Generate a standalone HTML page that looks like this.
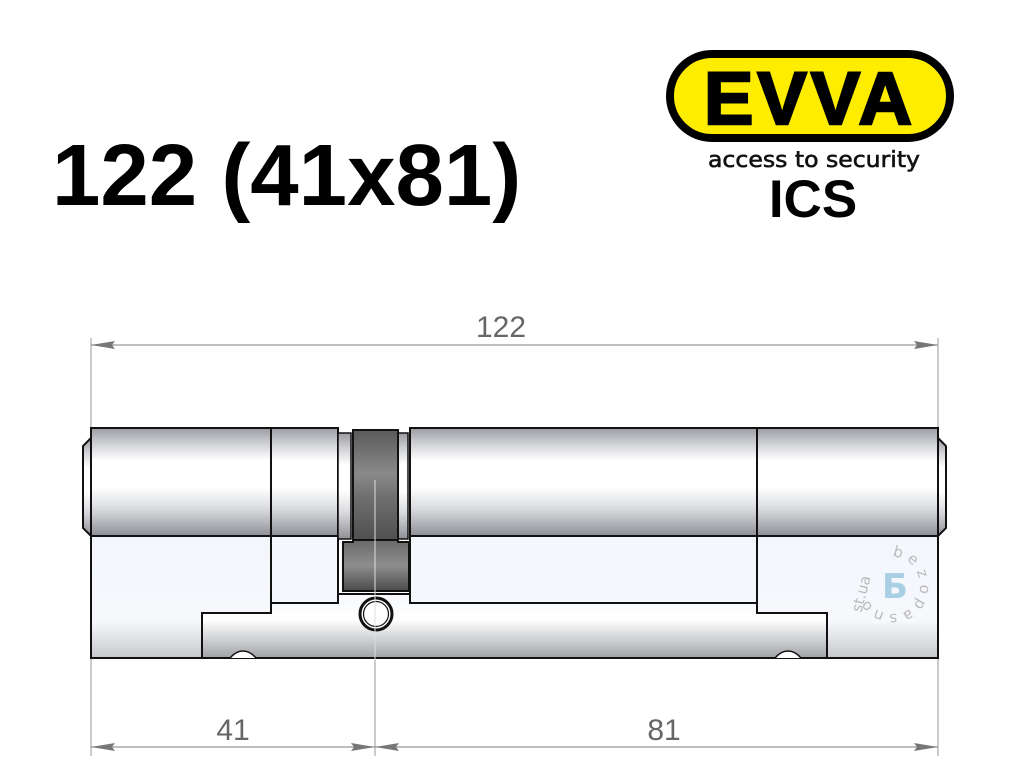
<!DOCTYPE html>
<html><head><meta charset="utf-8"><style>
html,body{margin:0;padding:0;background:#fff;}
svg{display:block;}
</style></head><body>
<svg width="1024" height="768" viewBox="0 0 1024 768" xmlns="http://www.w3.org/2000/svg">
<defs>
<linearGradient id="cyl" x1="0" y1="0" x2="0" y2="1">
<stop offset="0" stop-color="#9a9ca2"/><stop offset="0.15" stop-color="#d0d2d6"/>
<stop offset="0.3" stop-color="#ffffff"/><stop offset="0.55" stop-color="#ffffff"/>
<stop offset="0.75" stop-color="#d8dade"/><stop offset="1" stop-color="#8e9096"/>
</linearGradient>
<linearGradient id="cam" x1="0" y1="0" x2="0" y2="1">
<stop offset="0" stop-color="#5a5a5a"/><stop offset="0.4" stop-color="#8a8a8a"/>
<stop offset="0.6" stop-color="#707070"/><stop offset="1" stop-color="#505050"/>
</linearGradient>
<linearGradient id="cam2" x1="0" y1="0" x2="0" y2="1">
<stop offset="0" stop-color="#6a6a6a"/><stop offset="0.5" stop-color="#8e8e8e"/><stop offset="1" stop-color="#4a4a4a"/>
</linearGradient>
<linearGradient id="bar" x1="0" y1="0" x2="0" y2="1">
<stop offset="0" stop-color="#f6f8fb"/><stop offset="0.4" stop-color="#ffffff"/>
<stop offset="0.75" stop-color="#c8cace"/><stop offset="1" stop-color="#a0a2a6"/>
</linearGradient>
<linearGradient id="low" x1="0" y1="0" x2="0" y2="1">
<stop offset="0" stop-color="#f3f6fb"/><stop offset="0.7" stop-color="#f6f8fc"/><stop offset="1" stop-color="#c6c8cc"/>
</linearGradient>
</defs>

<text x="52" y="205" font-family="Liberation Sans, sans-serif" font-weight="bold" font-size="87" fill="#000">122 (41x81)</text>

<rect x="670" y="54" width="280" height="84" rx="42" fill="#ffed00" stroke="#000" stroke-width="8"/>
<text x="810" y="124" text-anchor="middle" font-family="Liberation Sans, sans-serif" font-weight="bold" font-size="74" letter-spacing="4" fill="#000" stroke="#000" stroke-width="2.5" textLength="212" lengthAdjust="spacingAndGlyphs">EVVA</text>
<text x="814" y="167" text-anchor="middle" font-family="DejaVu Sans, sans-serif" font-size="22" fill="#111" stroke="#111" stroke-width="0.6" textLength="212" lengthAdjust="spacingAndGlyphs">access to security</text>
<text x="813" y="217" text-anchor="middle" font-family="Liberation Sans, sans-serif" font-weight="bold" font-size="53" fill="#000">ICS</text>

<g stroke="#aaa" stroke-width="1.2">
<line x1="91" y1="338" x2="91" y2="756"/>
<line x1="938" y1="338" x2="938" y2="756"/>
<line x1="375" y1="480" x2="375" y2="756"/>
</g>
<g stroke="#999" stroke-width="1.3" fill="#777">
<line x1="91" y1="345" x2="938" y2="345"/>
<path d="M91 345 L115 341 L112 345 L115 349Z" stroke="none"/>
<path d="M938 345 L914 341 L917 345 L914 349Z" stroke="none"/>
<line x1="91" y1="747" x2="938" y2="747"/>
<path d="M91 747 L115 743 L112 747 L115 751Z" stroke="none"/>
<path d="M375 747 L351 743 L354 747 L351 751Z" stroke="none"/>
<path d="M375 747 L399 743 L396 747 L399 751Z" stroke="none"/>
<path d="M938 747 L914 743 L917 747 L914 751Z" stroke="none"/>
</g>
<g font-family="Liberation Sans, sans-serif" font-size="30" fill="#666" text-anchor="middle">
<text x="501" y="337">122</text>
<text x="233" y="740">41</text>
<text x="664" y="740">81</text>
</g>

<g stroke="#111" stroke-width="2">
<path d="M91 536 L91 658 L202 658 L202 613 L271 613 L271 536Z" fill="url(#low)"/>
<rect x="271" y="536" width="67" height="67" fill="#f4f7fb"/>
<rect x="410" y="536" width="347" height="67" fill="#f4f7fb"/>
<path d="M757 536 L757 613 L827 613 L827 658 L938 658 L938 536Z" fill="url(#low)"/>
<path d="M202 613 L271 613 L271 603 L338 603 L338 594 L410 594 L410 603 L757 603 L757 613 L827 613 L827 658 L202 658Z" fill="url(#bar)"/>
<path d="M230 658 Q236 651 243 651 Q250 651 256 658" fill="#fff" stroke-width="1.5"/>
<path d="M775 658 Q781 651 788 651 Q795 651 801 658" fill="#fff" stroke-width="1.5"/>
<path d="M91 438 L83 446 L83 528 L91 536Z" fill="url(#cyl)"/>
<path d="M938 438 L946 446 L946 528 L938 536Z" fill="url(#cyl)"/>
<rect x="91" y="428" width="180" height="108" fill="url(#cyl)"/>
<rect x="271" y="428" width="67" height="108" fill="url(#cyl)"/>
<rect x="338" y="433" width="13" height="106" fill="url(#cyl)" stroke-width="1.5"/>
<rect x="398" y="433" width="10" height="106" fill="url(#cyl)" stroke-width="1.5"/>
<rect x="410" y="428" width="347" height="108" fill="url(#cyl)"/>
<rect x="757" y="428" width="181" height="108" fill="url(#cyl)"/>
<rect x="353" y="430" width="45" height="110" fill="url(#cam)"/>
<path d="M343 542 L353 542 L353 540 L398 540 L398 542 L409 542 L409 591 L343 591Z" fill="url(#cam2)"/>
<circle cx="376" cy="614" r="16" fill="#fff" stroke-width="3"/>
<circle cx="376" cy="614" r="12.5" fill="#fff" stroke-width="1.2"/>
</g>
<line x1="375" y1="480" x2="375" y2="660" stroke="#ddd" stroke-width="1"/>

<g fill="#a9cfe4" font-family="DejaVu Sans, sans-serif">
<text x="895" y="598" text-anchor="middle" font-size="34" font-weight="bold">Б</text>
</g>
<g fill="#bbb" font-family="DejaVu Sans, sans-serif" font-size="15" text-anchor="middle">
<text x="866" y="595" transform="rotate(-75 866 595)">st.ua</text>
<text x="897" y="557" transform="rotate(15 897 557)">b</text>
<text x="910" y="563" transform="rotate(40 910 563)">e</text>
<text x="918" y="575" transform="rotate(70 918 575)">z</text>
<text x="920" y="589" transform="rotate(95 920 589)">o</text>
<text x="916" y="602" transform="rotate(120 916 602)">p</text>
<text x="906" y="611" transform="rotate(150 906 611)">a</text>
<text x="893" y="614" transform="rotate(175 893 614)">s</text>
<text x="880" y="611" transform="rotate(200 880 611)">n</text>
<text x="870" y="603" transform="rotate(225 870 603)">o</text>
</g>
</svg>
</body></html>
